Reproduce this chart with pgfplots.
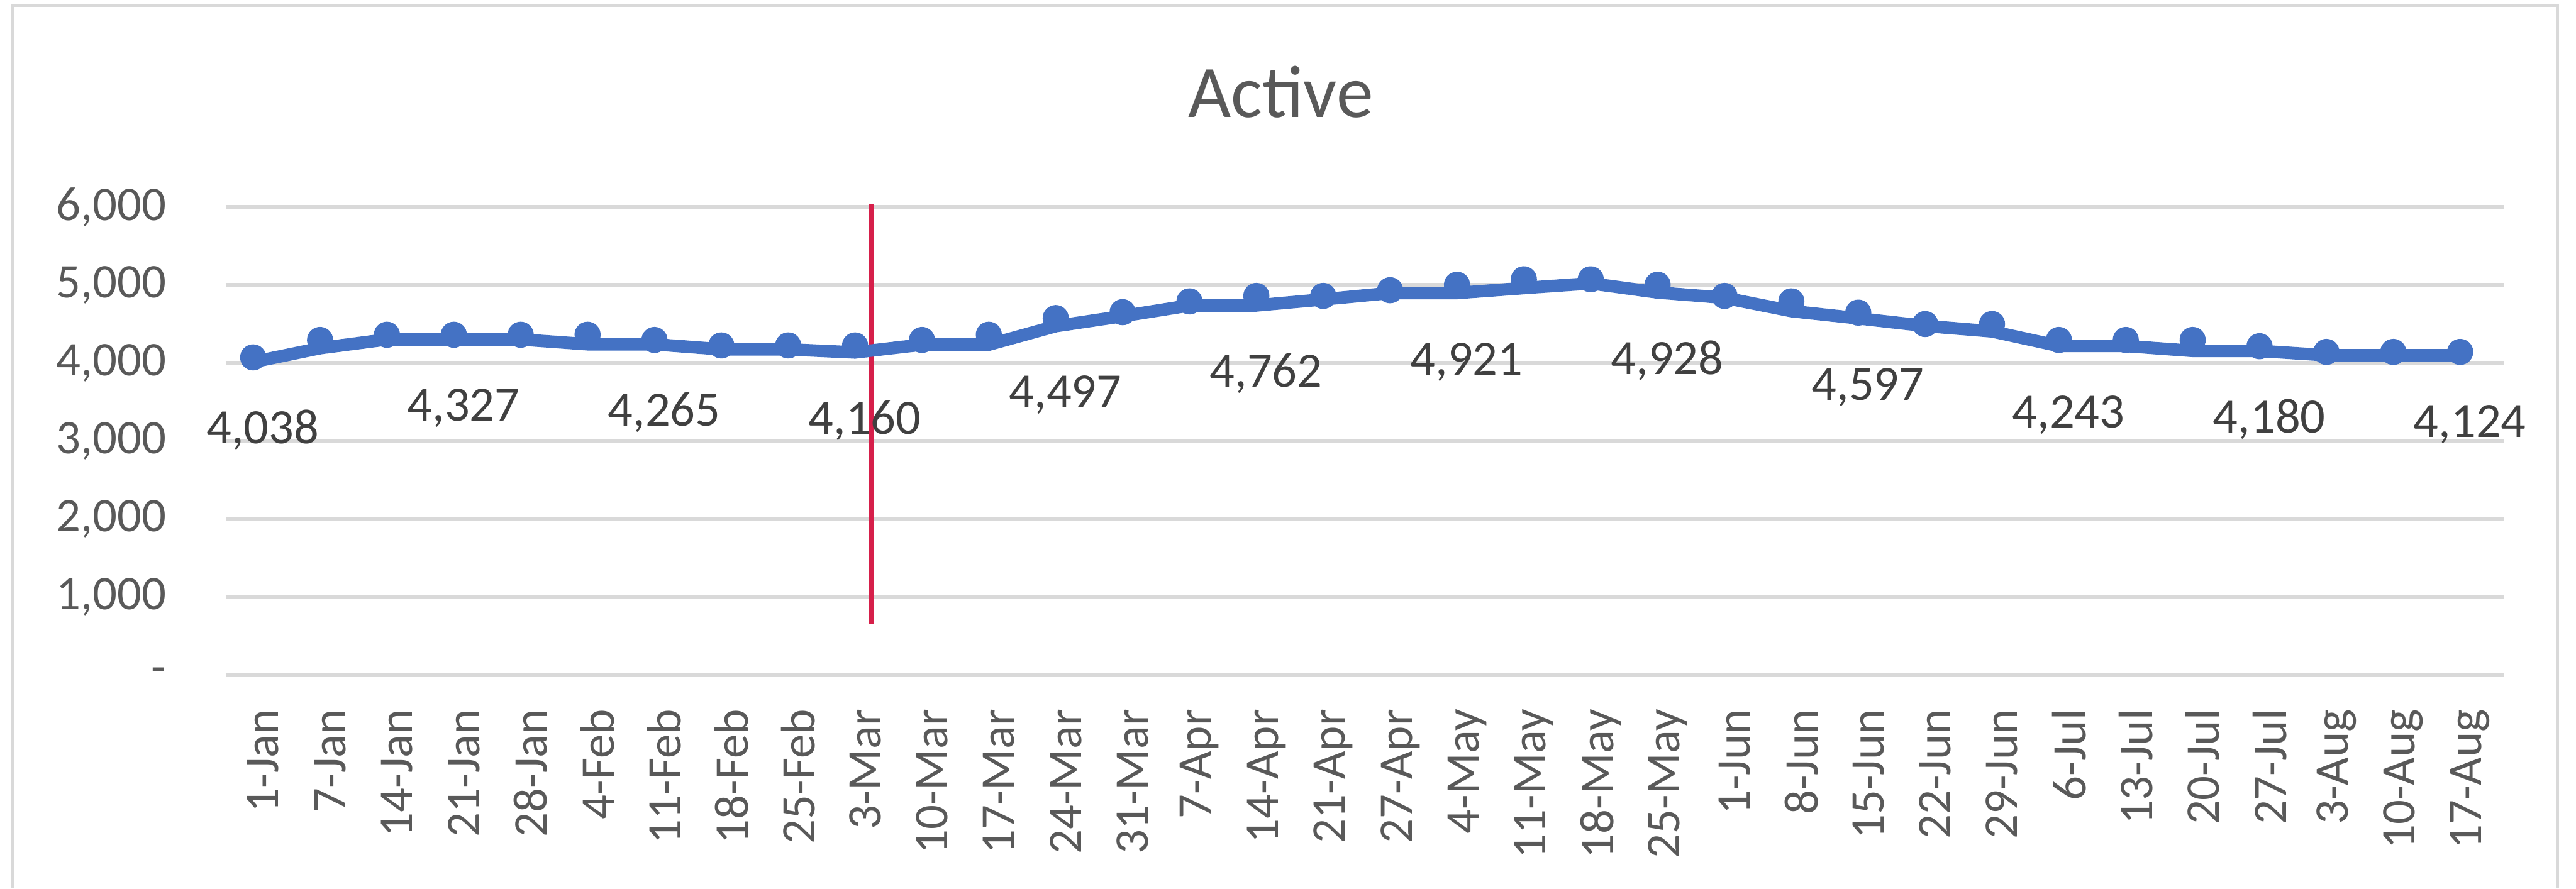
\documentclass[border=0pt]{standalone}
\usepackage{pgfplots}
\pgfplotsset{compat=1.18}
\usepackage{pgfplotstable}
\usepackage{fontspec}
\setmainfont{Carlito}
\definecolor{linecol}{HTML}{4472C4}
\definecolor{gridcol}{HTML}{D9D9D9}
\definecolor{ticktext}{HTML}{595959}
\definecolor{labeltext}{HTML}{404040}
\definecolor{redline}{RGB}{214,31,74}

\pgfplotstableread{
x line mark
0 4013 4072
1 4190 4295
2 4302 4362
3 4302 4362
4 4302 4362
5 4240 4362
6 4240 4295
7 4175 4225
8 4175 4225
9 4135 4225
10 4235 4295
11 4235 4362
12 4472 4575
13 4600 4651
14 4737 4789
15 4737 4859
16 4815 4859
17 4896 4932
18 4896 5002
19 4960 5072
20 5020 5072
21 4903 5002
22 4835 4859
23 4665 4789
24 4572 4645
25 4475 4499
26 4405 4499
27 4218 4295
28 4218 4295
29 4155 4295
30 4155 4215
31 4099 4142
32 4099 4142
33 4099 4142
}\activedata

\pgfplotstableread{
x y label
0 4038 4,038
3 4327 4,327
6 4265 4,265
9 4160 4,160
12 4497 4,497
15 4762 4,762
18 4921 4,921
21 4928 4,928
24 4597 4,597
27 4243 4,243
30 4180 4,180
33 4124 4,124
}\labeldata

\begin{document}
\begin{tikzpicture}
\begin{axis}[
  at={(0,0)}, anchor=south west,
  scale only axis,
  width=636.63bp, height=130.98bp,
  xmin=-0.411, xmax=33.647,
  ymin=0, ymax=6000,
  clip=false,
  axis line style={draw=none},
  major tick length=0pt,
  ymajorgrids,
  grid style={gridcol, line width=1.17bp},
  ytick={0,1000,2000,3000,4000,5000,6000},
  yticklabels={{-\hspace{6.2bp}},{1,000},{2,000},{3,000},{4,000},{5,000},{6,000}},
  yticklabel style={font=\fontsize{13.5bp}{16bp}\selectfont, text=ticktext, inner sep=0pt, anchor=east, xshift=-16.46bp},
  xtick={0,1,...,33},
  xticklabels={1-Jan,7-Jan,14-Jan,21-Jan,28-Jan,4-Feb,11-Feb,18-Feb,25-Feb,3-Mar,10-Mar,17-Mar,24-Mar,31-Mar,7-Apr,14-Apr,21-Apr,27-Apr,4-May,11-May,18-May,25-May,1-Jun,8-Jun,15-Jun,22-Jun,29-Jun,6-Jul,13-Jul,20-Jul,27-Jul,3-Aug,10-Aug,17-Aug},
  xticklabel style={font=\fontsize{13.5bp}{16bp}\selectfont, text=ticktext, inner sep=0pt, xshift=2.8bp, yshift=-9.3bp, rotate=90, anchor=east},
]
\addplot[redline, line width=1.6bp, mark=none] coordinates {(9.242,653) (9.242,6033)};
\addplot[linecol, line width=3.5bp, mark=none, line join=round] table[x=x, y=line]{\activedata};
\addplot[linecol, only marks, mark=*, mark size=3.5bp, mark options={fill=linecol, draw=linecol, line width=0.3bp}] table[x=x, y=mark]{\activedata};
\addplot[draw=none, mark=none, nodes near coords, point meta=explicit symbolic,
  every node near coord/.append style={anchor=base, inner sep=0pt, xshift=2.7bp, yshift=-23.4bp, font=\fontsize{13.8bp}{16bp}\selectfont, text=labeltext}]
  table[x=x, y=y, meta=label]{\labeldata};
\end{axis}
\node[anchor=base, inner sep=0pt, font=\fontsize{20.7bp}{24bp}\selectfont, text=ticktext] at (294.88bp,156.03bp) {Active};
\draw[gridcol, line width=0.9bp] (-59.58bp,-59.59bp) -- (-59.58bp,187.35bp) -- (651.68bp,187.35bp) -- (651.68bp,-59.59bp);
\pgfresetboundingbox
\useasboundingbox (-63.08bp,-59.59bp) rectangle (656.92bp,188.81bp);
\end{tikzpicture}
\end{document}
